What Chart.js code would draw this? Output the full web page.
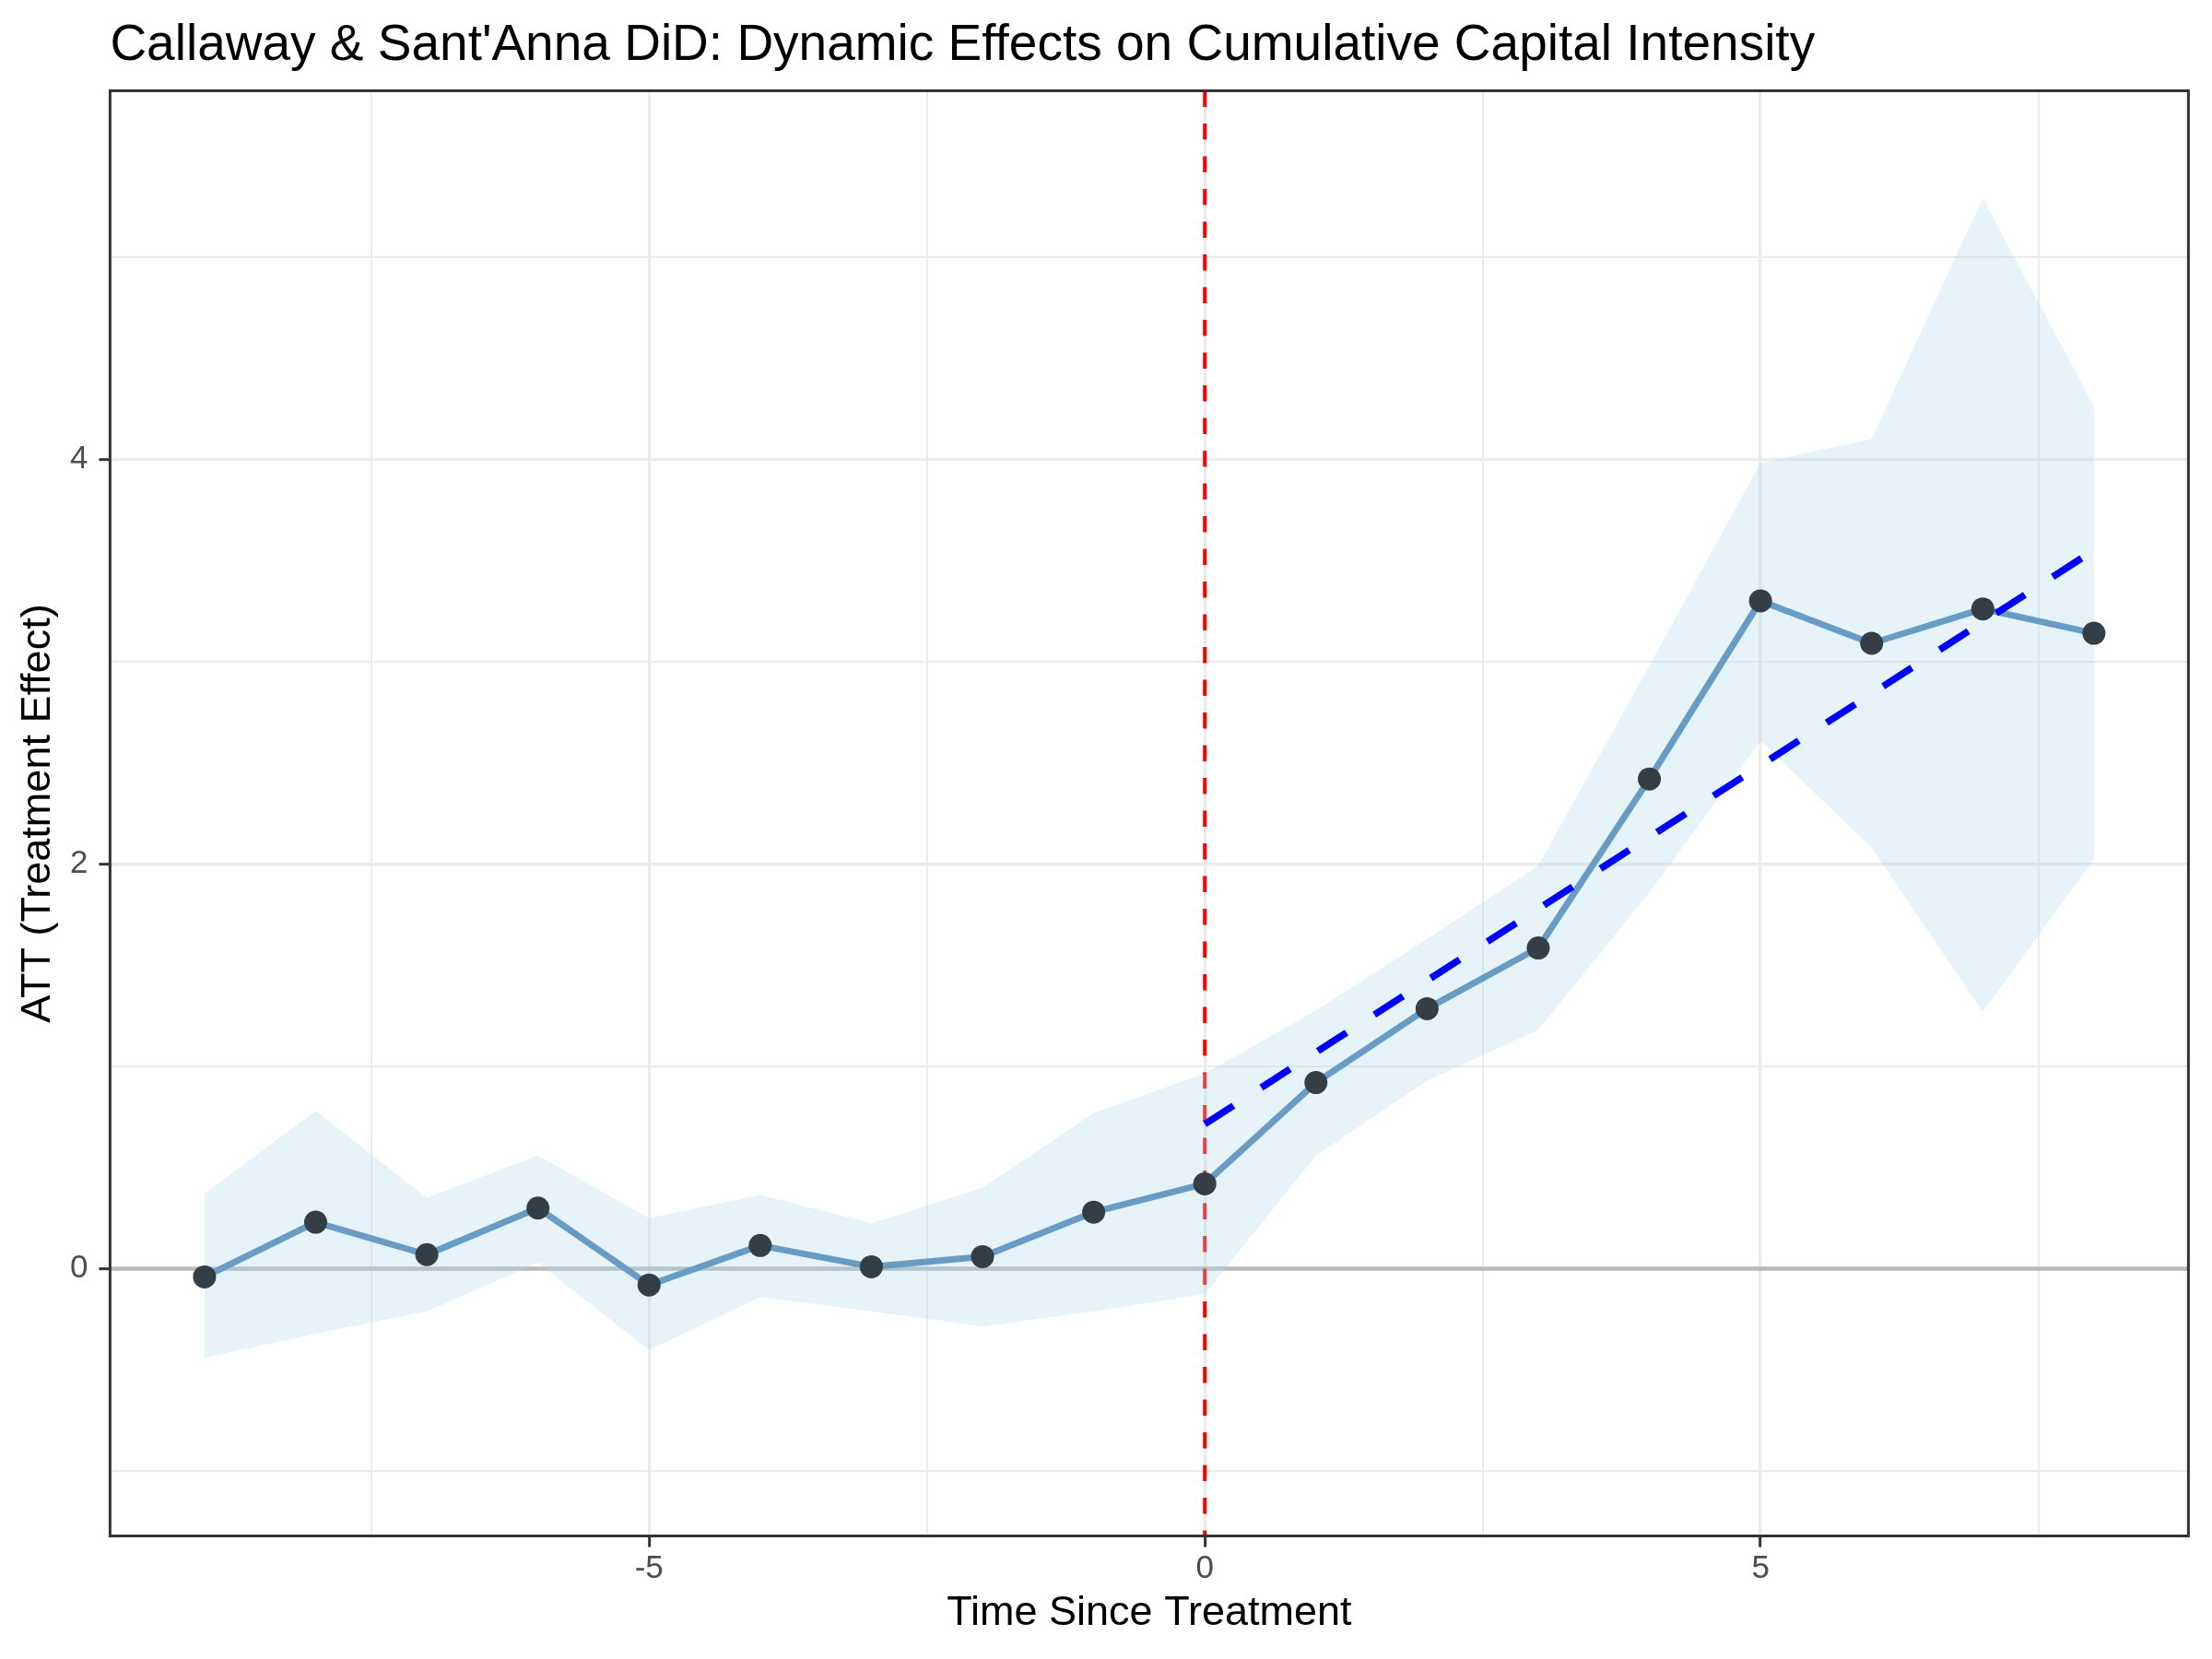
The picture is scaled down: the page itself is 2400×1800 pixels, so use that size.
<!DOCTYPE html>
<html>
<head>
<meta charset="utf-8">
<script src="https://cdn.jsdelivr.net/npm/chart.js@4.4.1/dist/chart.umd.min.js"></script>
<style>
  html, body { margin: 0; padding: 0; background: #ffffff; }
  #wrap { width: 2400px; height: 1800px; }
</style>
</head>
<body>
<div id="wrap"><canvas id="didChart" width="2400" height="1800"></canvas></div>
<script>
// event time and CS-DiD estimates
const eventTime = [-9, -8, -7, -6, -5, -4, -3, -2, -1, 0, 1, 2, 3, 4, 5, 6, 7, 8];
const att     = [-0.04, 0.23, 0.07, 0.30, -0.08, 0.115, 0.01, 0.06, 0.28, 0.42, 0.92, 1.285, 1.585, 2.42, 3.30, 3.09, 3.26, 3.14];
const ciUpper = [0.37, 0.78, 0.35, 0.56, 0.25, 0.365, 0.225, 0.40, 0.77, 0.965, 1.275, 1.63, 1.99, 2.98, 3.98, 4.10, 5.29, 4.26];
const ciLower = [-0.44, -0.32, -0.21, 0.03, -0.40, -0.14, -0.21, -0.285, -0.21, -0.125, 0.56, 0.93, 1.18, 1.86, 2.61, 2.08, 1.27, 2.025];

// post-treatment linear trend (end points)
const trendX = [0, 8];
const trendY = [0.715, 3.55];

// axis ticks (majors get labels, the rest are minor grid lines)
const xTicks = [-7.5, -5, -2.5, 0, 2.5, 5, 7.5];
const yTicks = [-1, 0, 1, 2, 3, 4, 5];
const xMajor = [-5, 0, 5];
const yMajor = [0, 2, 4];

const FONT = '"Liberation Sans", Arial, Helvetica, sans-serif';

const pts = ys => eventTime.map((x, i) => ({ x: x, y: ys[i] }));

// zero line + red treatment line, under the ribbon
const refLines = {
    id: 'refLines',
    beforeDatasetsDraw(chart) {
        const { ctx, chartArea: a, scales: { x, y } } = chart;
        ctx.save();
        ctx.beginPath();
        ctx.rect(a.left, a.top, a.right - a.left, a.bottom - a.top);
        ctx.clip();
        const y0 = y.getPixelForValue(0);
        ctx.strokeStyle = '#BABABA';
        ctx.lineWidth = 4.5;
        ctx.beginPath();
        ctx.moveTo(a.left, y0);
        ctx.lineTo(a.right, y0);
        ctx.stroke();
        const x0 = x.getPixelForValue(0);
        ctx.strokeStyle = '#FF0000';
        ctx.lineWidth = 4;
        ctx.setLineDash([17.5, 18]);
        ctx.beginPath();
        ctx.moveTo(x0, a.top);
        ctx.lineTo(x0, a.bottom);
        ctx.stroke();
        ctx.restore();
    }
};

// panel border on top of everything
const panelBorder = {
    id: 'panelBorder',
    afterDatasetsDraw(chart) {
        const { ctx, chartArea: a } = chart;
        ctx.save();
        ctx.strokeStyle = '#333333';
        ctx.lineWidth = 3;
        ctx.strokeRect(a.left, a.top, a.right - a.left, a.bottom - a.top);
        ctx.restore();
    }
};

const gridOpts = (majors) => ({
    color: '#EBEBEB',
    lineWidth: c => majors.includes(c.tick && c.tick.value) ? 3.3 : 2,
    tickColor: c => majors.includes(c.tick && c.tick.value) ? '#333333' : 'rgba(0,0,0,0)',
    tickWidth: 3,
    tickLength: 12
});

new Chart(document.getElementById('didChart'), {
    type: 'line',
    data: {
        datasets: [
            {
                label: 'CI upper',
                data: pts(ciUpper),
                borderWidth: 0,
                pointRadius: 0,
                fill: '+1',
                backgroundColor: 'rgba(173, 214, 236, 0.3)',
                order: 3
            },
            {
                label: 'CI lower',
                data: pts(ciLower),
                borderWidth: 0,
                pointRadius: 0,
                fill: false,
                order: 2
            },
            {
                label: 'ATT',
                data: pts(att),
                borderColor: '#689CC4',
                borderWidth: 7,
                borderJoinStyle: 'round',
                borderCapStyle: 'round',
                pointRadius: 12.5,
                pointBackgroundColor: '#343E47',
                pointBorderWidth: 0,
                fill: false,
                order: 1
            },
            {
                label: 'Trend',
                data: trendX.map((x, i) => ({ x: x, y: trendY[i] })),
                borderColor: '#0000FF',
                borderWidth: 7.5,
                borderDash: [37, 36],
                borderCapStyle: 'butt',
                pointRadius: 0,
                fill: false,
                order: 0
            }
        ]
    },
    options: {
        responsive: false,
        devicePixelRatio: 1,
        animation: false,
        events: [],
        layout: { padding: { top: 0, right: 25.6, bottom: 0, left: 0 } },
        plugins: {
            legend: { display: false },
            tooltip: { enabled: false },
            title: {
                display: true,
                text: "Callaway & Sant'Anna DiD: Dynamic Effects on Cumulative Capital Intensity",
                align: 'start',
                fullSize: false,
                color: '#000000',
                font: { family: FONT, size: 55, weight: 'normal', lineHeight: 1.2 },
                padding: { top: 17, bottom: 15.5 }
            }
        },
        scales: {
            x: {
                type: 'linear',
                min: -9.85,
                max: 8.85,
                bounds: 'data',
                afterFit: s => { s.height = 133.5; },
                afterBuildTicks: s => { s.ticks = xTicks.map(v => ({ value: v })); },
                grid: gridOpts(xMajor),
                border: { display: false },
                ticks: {
                    autoSkip: false,
                    maxRotation: 0,
                    padding: 3,
                    color: '#4D4D4D',
                    font: { family: FONT, size: 35 },
                    callback: v => xMajor.includes(v) ? String(v) : ''
                },
                title: {
                    display: true,
                    text: 'Time Since Treatment',
                    color: '#000000',
                    font: { family: FONT, size: 45, lineHeight: 1 },
                    padding: { top: 0, bottom: 27 }
                }
            },
            y: {
                type: 'linear',
                min: -1.32,
                max: 5.82,
                bounds: 'data',
                afterFit: s => { s.width = 119.4; },
                afterBuildTicks: s => { s.ticks = yTicks.map(v => ({ value: v })); },
                grid: gridOpts(yMajor),
                border: { display: false },
                ticks: {
                    autoSkip: false,
                    padding: 12,
                    color: '#4D4D4D',
                    font: { family: FONT, size: 35 },
                    callback: v => yMajor.includes(v) ? String(v) : ''
                },
                title: {
                    display: true,
                    text: 'ATT (Treatment Effect)',
                    color: '#000000',
                    font: { family: FONT, size: 45, lineHeight: 1 },
                    padding: { top: 19, bottom: 0 }
                }
            }
        }
    },
    plugins: [refLines, panelBorder]
});
</script>
</body>
</html>
